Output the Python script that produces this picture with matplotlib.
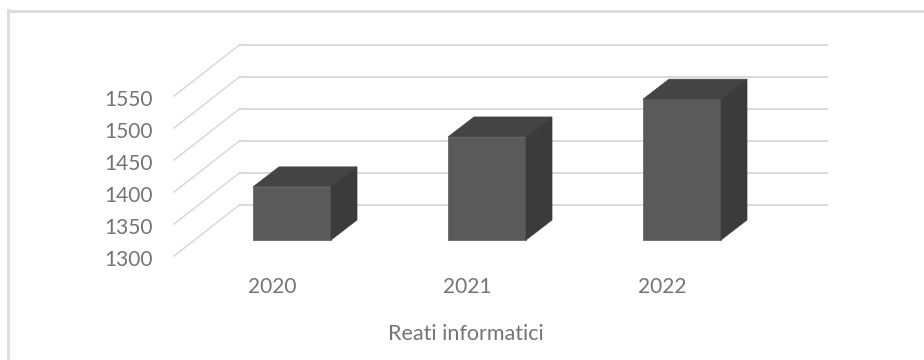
import matplotlib.pyplot as plt
from matplotlib.patches import Polygon

plt.rcParams['font.family'] = ['Lato', 'DejaVu Sans']

years = ["2020", "2021", "2022"]
reati = [1383, 1461, 1520]
yticks = [1300, 1350, 1400, 1450, 1500, 1550]
xlabel = "Reati informatici"

W, H = 924, 360
PX_X = 195.0      # pixels per category
PX_Y = 32 / 50.0  # pixels per unit
X0, Y0 = 292.0, 240.0  # pixel of first category centre / value 1300
TEXT = '#747474'

fig = plt.figure(figsize=(W / 100, H / 100), dpi=100)
ax = fig.add_axes([0, 0, 1, 1])
ax.set_xlim(-X0 / PX_X, (W - X0) / PX_X)
ax.set_ylim(1300 - (H - Y0) / PX_Y, 1300 + Y0 / PX_Y)
ax.axis('off')


# shift a data point by an oblique offset given in pixels
def shift(x, y, dx, dy):
    return x + dx / PX_X, y + dy / PX_Y


# frame, only top and left are in the picture
ax.axvline((8.5 - X0) / PX_X, ymax=1 - 10 / H, color='#dcdcdc', lw=2)
ax.axhline(1300 + (Y0 - 10.5) / PX_Y, xmin=8 / W, color='#dcdcdc', lw=2)

# walls: gridlines run from the front left, to the back, then along the back
left = (240 - X0) / PX_X
right = (827 - X0) / PX_X
for v in yticks:
    yb = v + 35.5 / PX_Y
    x1, y1 = shift(left, yb, -66, -51.5)
    ax.plot([x1, left], [y1, yb], color='#d9d9d9', lw=1.1, zorder=1)
    ax.plot([left, right], [yb, yb], color='#d9d9d9', lw=1.4, zorder=1)
    ax.text(x1 - 21 / PX_X, y1 - 4 / PX_Y, str(v), ha='right', va='center', color=TEXT, fontsize=15)

# bars
w = 78 / PX_X
for i, v in enumerate(reati):
    l, r = i - w / 2, i + w / 2
    ax.bar(i, v - 1300, bottom=1300, width=w, color='#5a5a5a', ec='#6a6a6a', lw=0.6, zorder=3)
    top = [(l, v), (r, v), shift(r, v, 26, 20), shift(l, v, 26, 20)]
    side = [(r, 1300), shift(r, 1300, 26, 20), shift(r, v, 26, 20), (r, v)]
    ax.add_patch(Polygon(top, fc='#444444', ec='#444444', lw=0.5, zorder=3))
    ax.add_patch(Polygon(side, fc='#3b3b3b', ec='#3b3b3b', lw=0.5, zorder=3))
    tx, ty = shift(i, 1300, -20, -47)
    ax.text(tx, ty, years[i], ha='center', va='center', color=TEXT, fontsize=15)

tx, ty = shift(1, 1300, -21, -94)
ax.text(tx, ty, xlabel, ha='center', va='center', color=TEXT, fontsize=15.5)

plt.savefig('out.png', dpi=100)
